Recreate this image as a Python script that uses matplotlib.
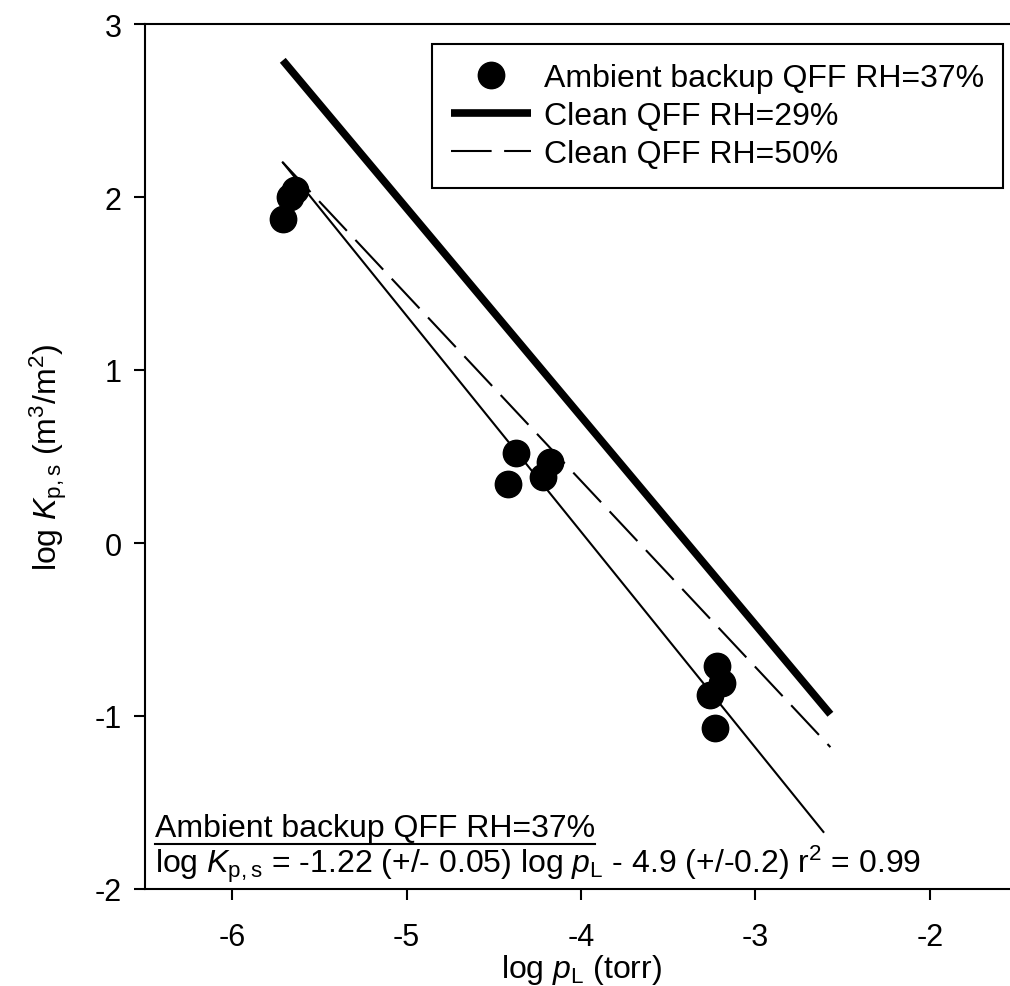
import matplotlib
matplotlib.use("Agg")
import matplotlib.pyplot as plt
from matplotlib.lines import Line2D

plt.rcParams["font.family"] = ["Liberation Sans", "DejaVu Sans"]
plt.rcParams["mathtext.fontset"] = "custom"
plt.rcParams["mathtext.rm"] = "Liberation Sans"
plt.rcParams["mathtext.it"] = "Liberation Sans:italic"
plt.rcParams["axes.unicode_minus"] = False

# Ambient backup QFF RH=37% measurements
log_pl = [-5.71, -5.67, -5.64, -4.42, -4.37, -4.22, -4.18,
          -3.26, -3.23, -3.22, -3.19]
log_kps = [1.87, 2.00, 2.04, 0.34, 0.52, 0.38, 0.47,
           -0.88, -1.07, -0.71, -0.81]

# fitted line for the ambient backup filter
fit_x = [-5.71, -2.61]
fit_y = [2.20, -1.67]

# clean QFF lines
clean29_x = [-5.71, -2.57]
clean29_y = [2.79, -0.99]
clean50_x = [-5.71, -2.57]
clean50_y = [2.20, -1.18]

fig = plt.figure(figsize=(10.1, 9.87), dpi=100)
ax = fig.add_axes([145 / 1010, 97 / 987, 872 / 1010, 865 / 987])

ax.plot(log_pl, log_kps, "o", color="black", markersize=19,
        label="Ambient backup QFF RH=37%")
ax.plot(clean29_x, clean29_y, color="black", linewidth=5.5,
        solid_capstyle="butt", label="Clean QFF RH=29%")
ax.plot(clean50_x, clean50_y, color="black", linewidth=1.5,
        linestyle=(0, (19.5, 6)), label="Clean QFF RH=50%")
ax.plot(fit_x, fit_y, color="black", linewidth=1.5)

ax.set_xlim(-6.5, -1.5)
ax.set_ylim(-2, 3)
ax.set_xticks([-6, -5, -4, -3, -2])
ax.set_yticks([-2, -1, 0, 1, 2, 3])
ax.tick_params(direction="out", length=8, width=1.5, labelsize=22)
ax.tick_params(axis="x", pad=16)
ax.tick_params(axis="y", pad=9)
for side in ["left", "bottom", "top"]:
    ax.spines[side].set_linewidth(1.5)
ax.spines["right"].set_visible(False)

ax.set_xlabel("log $p_{\\mathrm{L}}$ (torr)", fontsize=23, labelpad=0)
ax.set_ylabel("log $K_{\\mathrm{p,s}}$ (m$^3$/m$^2$)", fontsize=23, labelpad=18)

leg = ax.legend(loc="upper right", bbox_to_anchor=(1003 / 1010, 1 - 45 / 987),
                bbox_transform=fig.transFigure, borderaxespad=0,
                fontsize=23, numpoints=1, handlelength=2.5, handletextpad=0.4,
                labelspacing=0.25, fancybox=False, framealpha=1,
                edgecolor="black", borderpad=0.6)
leg.get_frame().set_linewidth(1.5)

t1 = ax.text(0.0115, 0.061, "Ambient backup QFF RH=37%", fontsize=23,
             transform=ax.transAxes, va="baseline")
ax.text(0.0115, 0.02,
        "log $K_{\\mathrm{p,s}}$ = -1.22 (+/- 0.05) log $p_{\\mathrm{L}}$ "
        "- 4.9 (+/-0.2) r$^2$ = 0.99",
        fontsize=23, transform=ax.transAxes, va="baseline")

# underline the caption
fig.canvas.draw()
bb = t1.get_window_extent(fig.canvas.get_renderer())
inv = fig.transFigure.inverted()
x0, y0 = inv.transform((bb.x0, bb.y0 - 1))
x1, _ = inv.transform((bb.x1, bb.y0 - 1))
fig.add_artist(Line2D([x0, x1], [y0, y0], color="black", linewidth=1.5,
                      transform=fig.transFigure))

fig.savefig("out.png", dpi=100)
